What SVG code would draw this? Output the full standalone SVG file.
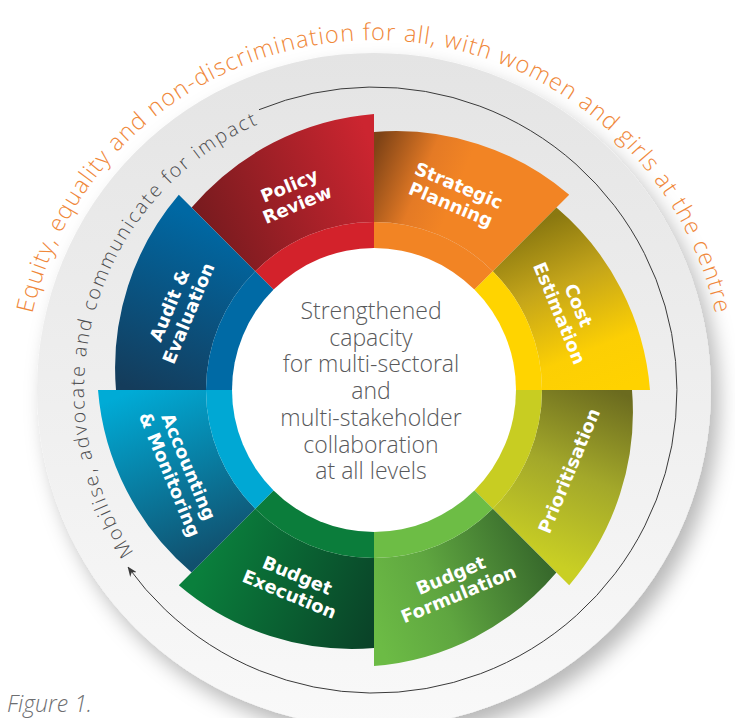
<svg xmlns="http://www.w3.org/2000/svg" width="735" height="718" viewBox="0 0 735 718">
<style>
.lbl{font-family:"DejaVu Sans","Open Sans",sans-serif;font-weight:bold;font-size:18px;fill:#ffffff;text-anchor:middle}
.ctr{font-family:"Open Sans","Lato",sans-serif;font-weight:300;font-size:23px;fill:#58595b;text-anchor:middle}
.orng{font-family:"Open Sans","Lato",sans-serif;font-weight:300;font-size:23.5px;fill:#f0883a}
.grey{font-family:"Open Sans","Lato",sans-serif;font-weight:300;font-size:19.5px;fill:#4d4d4f}
.band{fill:none;stroke-width:28}
</style>
<defs>
<linearGradient id="disc" x1="0" y1="0" x2="0" y2="1">
<stop offset="0" stop-color="#e4e4e4"/><stop offset="1" stop-color="#f9f9f9"/>
</linearGradient>
<filter id="sh" x="-20%" y="-20%" width="150%" height="150%">
<feDropShadow dx="8" dy="12" stdDeviation="10" flood-color="#000" flood-opacity="0.28"/>
</filter>
<linearGradient id="gPol" gradientUnits="userSpaceOnUse" x1="204.3" y1="220.3" x2="374" y2="150"><stop offset="0" stop-color="#7a1b1f"/><stop offset="1" stop-color="#cc2530"/></linearGradient>
<linearGradient id="gStr" gradientUnits="userSpaceOnUse" x1="374" y1="150" x2="543.7" y2="220.3"><stop offset="0" stop-color="#7f4316"/><stop offset="0.3" stop-color="#e47a25"/><stop offset="0.5" stop-color="#f28424"/><stop offset="1" stop-color="#f28424"/></linearGradient>
<linearGradient id="gCost" gradientUnits="userSpaceOnUse" x1="543.7" y1="220.3" x2="614" y2="390"><stop offset="0" stop-color="#8a7810"/><stop offset="0.35" stop-color="#c4a51a"/><stop offset="0.75" stop-color="#fccf04"/><stop offset="1" stop-color="#ffd200"/></linearGradient>
<linearGradient id="gPri" gradientUnits="userSpaceOnUse" x1="614" y1="390" x2="543.7" y2="559.7"><stop offset="0" stop-color="#6b6b1f"/><stop offset="0.5" stop-color="#a3a82a"/><stop offset="1" stop-color="#c9cf24"/></linearGradient>
<linearGradient id="gForm" gradientUnits="userSpaceOnUse" x1="543.7" y1="559.7" x2="374" y2="630"><stop offset="0" stop-color="#386a2c"/><stop offset="0.6" stop-color="#5fa640"/><stop offset="1" stop-color="#6cbb45"/></linearGradient>
<linearGradient id="gExec" gradientUnits="userSpaceOnUse" x1="374" y1="630" x2="204.3" y2="559.7"><stop offset="0" stop-color="#0a4328"/><stop offset="1" stop-color="#0a7f3c"/></linearGradient>
<linearGradient id="gAcc" gradientUnits="userSpaceOnUse" x1="204.3" y1="559.7" x2="134" y2="390"><stop offset="0" stop-color="#11506e"/><stop offset="1" stop-color="#00abd6"/></linearGradient>
<linearGradient id="gAud" gradientUnits="userSpaceOnUse" x1="134" y1="390" x2="204.3" y2="220.3"><stop offset="0" stop-color="#143c5b"/><stop offset="1" stop-color="#0068a3"/></linearGradient>
<marker id="arr" viewBox="0 0 10 8" refX="9" refY="4" markerWidth="10" markerHeight="8" markerUnits="userSpaceOnUse" orient="auto">
<path d="M0,0 L10,4 L0,8 L3,4 Z" fill="#3a3a3a"/>
</marker>
<path id="outerArc" d="M24,390 A350,350 0 0 1 724,390"/>
<path id="innerArc" d="M151.9,576.4 A290,290 0 0 1 298.9,109.9"/>
</defs>
<rect width="735" height="718" fill="#ffffff"/>
<g id="background">
<circle cx="374" cy="390" r="337" fill="url(#disc)" filter="url(#sh)"/>
</g>
<g id="outer-text">
<text class="orng"><textPath href="#outerArc" startOffset="50%" text-anchor="middle" textLength="945" lengthAdjust="spacing">Equity, equality and non-discrimination for all, with women and girls at the centre</textPath></text>
</g>
<g id="cycle-text">
<text class="grey"><textPath href="#innerArc" startOffset="30" textLength="508" lengthAdjust="spacing">Mobilise, advocate and communicate for impact</textPath></text>
</g>
<g id="connectors">
<path d="M259,109.7 A303,303 0 1 1 128.2,567.3" fill="none" stroke="#3a3a3a" stroke-width="1" marker-end="url(#arr)"/>
</g>
<g id="policy-review">
<path d="M255.2,271.2 L191.6,207.6 A267,267 0 0 1 374,114 L374,222 A168,168 0 0 0 255.2,271.2 Z" fill="url(#gPol)"/>
<path class="band" d="M265.1,281.1 A154,154 0 0 1 374,236" stroke="#d3222b"/>
<text class="lbl" transform="translate(293.3,195.1) rotate(-22.5)"><tspan x="0" y="-4">Policy</tspan><tspan x="0" y="16.5">Review</tspan></text>
</g>
<g id="strategic-planning">
<path d="M374,222 L374,132 A267,267 0 0 1 569.2,194.8 L492.8,271.2 A168,168 0 0 0 374,222 Z" fill="url(#gStr)"/>
<path class="band" d="M374,236 A154,154 0 0 1 482.9,281.1" stroke="#f28424"/>
<text class="lbl" transform="translate(454.7,195.1) rotate(22.5)"><tspan x="0" y="-4">Strategic</tspan><tspan x="0" y="16.5">Planning</tspan></text>
</g>
<g id="cost-estimation">
<path d="M492.8,271.2 L556.4,207.6 A267,267 0 0 1 650,390 L542,390 A168,168 0 0 0 492.8,271.2 Z" fill="url(#gCost)"/>
<path class="band" d="M482.9,281.1 A154,154 0 0 1 528,390" stroke="#ffd400"/>
<text class="lbl" transform="translate(568.9,309.3) rotate(67.5)"><tspan x="0" y="-4">Cost</tspan><tspan x="0" y="16.5">Estimation</tspan></text>
</g>
<g id="prioritisation">
<path d="M542,390 L632,390 A267,267 0 0 1 569.2,585.2 L492.8,508.8 A168,168 0 0 0 542,390 Z" fill="url(#gPri)"/>
<path class="band" d="M528,390 A154,154 0 0 1 482.9,498.9" stroke="#c8cd22"/>
<text class="lbl" transform="translate(568.9,470.7) rotate(-67.5)"><tspan x="0" y="6.5">Prioritisation</tspan></text>
</g>
<g id="budget-formulation">
<path d="M492.8,508.8 L556.4,572.4 A267,267 0 0 1 374,666 L374,558 A168,168 0 0 0 492.8,508.8 Z" fill="url(#gForm)"/>
<path class="band" d="M482.9,498.9 A154,154 0 0 1 374,544" stroke="#6dbd45"/>
<text class="lbl" transform="translate(454.7,584.9) rotate(-22.5)"><tspan x="0" y="-4">Budget</tspan><tspan x="0" y="16.5">Formulation</tspan></text>
</g>
<g id="budget-execution">
<path d="M374,558 L374,648 A267,267 0 0 1 178.8,585.2 L255.2,508.8 A168,168 0 0 0 374,558 Z" fill="url(#gExec)"/>
<path class="band" d="M374,544 A154,154 0 0 1 265.1,498.9" stroke="#0b7d3b"/>
<text class="lbl" transform="translate(293.3,584.9) rotate(22.5)"><tspan x="0" y="-4">Budget</tspan><tspan x="0" y="16.5">Execution</tspan></text>
</g>
<g id="accounting-monitoring">
<path d="M255.2,508.8 L191.6,572.4 A267,267 0 0 1 98,390 L206,390 A168,168 0 0 0 255.2,508.8 Z" fill="url(#gAcc)"/>
<path class="band" d="M265.1,498.9 A154,154 0 0 1 220,390" stroke="#00a8d4"/>
<text class="lbl" transform="translate(179.1,470.7) rotate(67.5)"><tspan x="0" y="-4">Accounting</tspan><tspan x="0" y="16.5">&amp; Monitoring</tspan></text>
</g>
<g id="audit-evaluation">
<path d="M206,390 L116,390 A267,267 0 0 1 178.8,194.8 L255.2,271.2 A168,168 0 0 0 206,390 Z" fill="url(#gAud)"/>
<path class="band" d="M220,390 A154,154 0 0 1 265.1,281.1" stroke="#006aa5"/>
<text class="lbl" transform="translate(179.1,309.3) rotate(-67.5)"><tspan x="0" y="-4">Audit &amp;</tspan><tspan x="0" y="16.5">Evaluation</tspan></text>
</g>
<g id="centre">
<circle cx="374" cy="390" r="142" fill="#ffffff"/>
<text class="ctr"><tspan x="371" y="319">Strengthened</tspan><tspan x="371" y="345.7">capacity</tspan><tspan x="371" y="372.4">for multi-sectoral</tspan><tspan x="371" y="399.1">and</tspan><tspan x="371" y="425.8">multi-stakeholder</tspan><tspan x="371" y="452.5">collaboration</tspan><tspan x="371" y="479.2">at all levels</tspan></text>
</g>
<g id="caption">
<text x="7" y="712" style="font-family:'Open Sans','Lato',sans-serif;font-weight:300;font-style:italic;font-size:23px;fill:#6d6e71">Figure 1.</text>
</g>
</svg>
